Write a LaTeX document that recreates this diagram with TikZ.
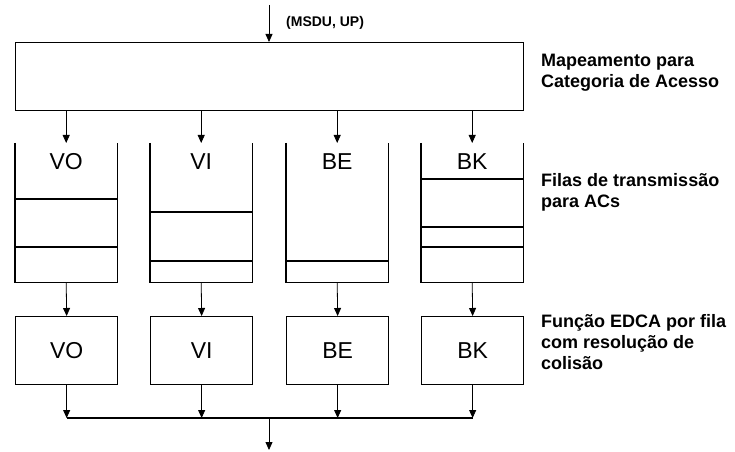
\documentclass[tikz,border=0pt]{standalone}
\usepackage{fontspec}
\setmainfont{Liberation Sans}
\usetikzlibrary{arrows.meta}
\tikzset{
  box/.style={draw, line width=1.3bp, minimum width=102bp, anchor=north west, inner sep=0pt},
  mapbox/.style={draw, line width=1.3bp, minimum width=508bp, minimum height=68bp, anchor=north west, inner sep=0pt},
  qbox/.style={minimum width=102bp, minimum height=139bp, anchor=north west, inner sep=0pt},
  ebox/.style={box, minimum height=68bp, font=\fontsize{23bp}{26bp}\selectfont},
  qline/.style={line width=1.3bp},
  qlabel/.style={font=\fontsize{23bp}{26bp}\selectfont, inner sep=0pt},
  arr/.style={line width=0.8bp, -{Triangle[length=8bp,width=7bp]}},
  side/.style={anchor=west, align=left, inner sep=0pt, font=\fontsize{18bp}{21bp}\selectfont\bfseries},
}
\begin{document}
\begin{tikzpicture}[x=1bp,y=-1bp]
\useasboundingbox (0,0) rectangle (735,452);
% mapping box
\node[mapbox] (map) at (15,42) {};
\coordinate (in) at (269,5);
\draw[arr] (in) -- (in |- map.north);
\node[anchor=west, inner sep=0pt, font=\fontsize{14bp}{16bp}\selectfont\bfseries] (msdu) at (286,23) {(MSDU, UP)};
\node[side] (lmap) at (541,73) {Mapeamento para\\Categoria de Acesso};
% queues
\node[qbox] (q1) at (15,143) {};
\node[qbox] (q2) at (150,143) {};
\node[qbox] (q3) at (286,143) {};
\node[qbox] (q4) at (421,143) {};
\foreach \q in {q1,q2,q3,q4}{
  \draw[qline] (\q.north west) -- (\q.south west) -- (\q.south east) -- (\q.north east);
  \draw[arr] (map.south -| \q) -- (\q.north);
}
\node[qlabel] (t1) at (q1.north |- 0,162) {VO};
\node[qlabel] (t2) at (q2.north |- 0,162) {VI};
\node[qlabel] (t3) at (q3.north |- 0,162) {BE};
\node[qlabel] (t4) at (q4.north |- 0,162) {BK};
% queue contents
\draw[line width=1.1bp] (q1.west |- 0,199) -- (q1.east |- 0,199);
\draw[line width=1.4bp] (q1.west |- 0,247) -- (q1.east |- 0,247);
\draw[line width=1.1bp] (q2.west |- 0,212) -- (q2.east |- 0,212);
\draw[line width=1.4bp] (q2.west |- 0,261) -- (q2.east |- 0,261);
\draw[line width=1.1bp] (q3.west |- 0,261) -- (q3.east |- 0,261);
\draw[line width=1.1bp] (q4.west |- 0,179) -- (q4.east |- 0,179);
\draw[line width=1.4bp] (q4.west |- 0,227) -- (q4.east |- 0,227);
\draw[line width=1.1bp] (q4.west |- 0,247) -- (q4.east |- 0,247);
\node[side] (lq) at (541,192) {Filas de transmissão\\para ACs};
% EDCA boxes
\node[ebox] (e1) at (15,316) {VO};
\node[ebox] (e2) at (150,316) {VI};
\node[ebox] (e3) at (286,316) {BE};
\node[ebox] (e4) at (421,316) {BK};
\node[side] (le) at (541,342) {Função EDCA por fila\\com resolução de\\colisão};
\coordinate (bus) at (269,418);
\coordinate (out) at (269,450);
\foreach \i in {1,2,3,4}{
  \draw[arr] (q\i.south) -- (e\i.north);
  \draw[arr] (e\i.south) -- (e\i.south |- bus);
}
\draw[line width=1.1bp] (e1.south |- bus) -- (e4.south |- bus);
\draw[arr] (bus) -- (out);
\end{tikzpicture}
\end{document}
